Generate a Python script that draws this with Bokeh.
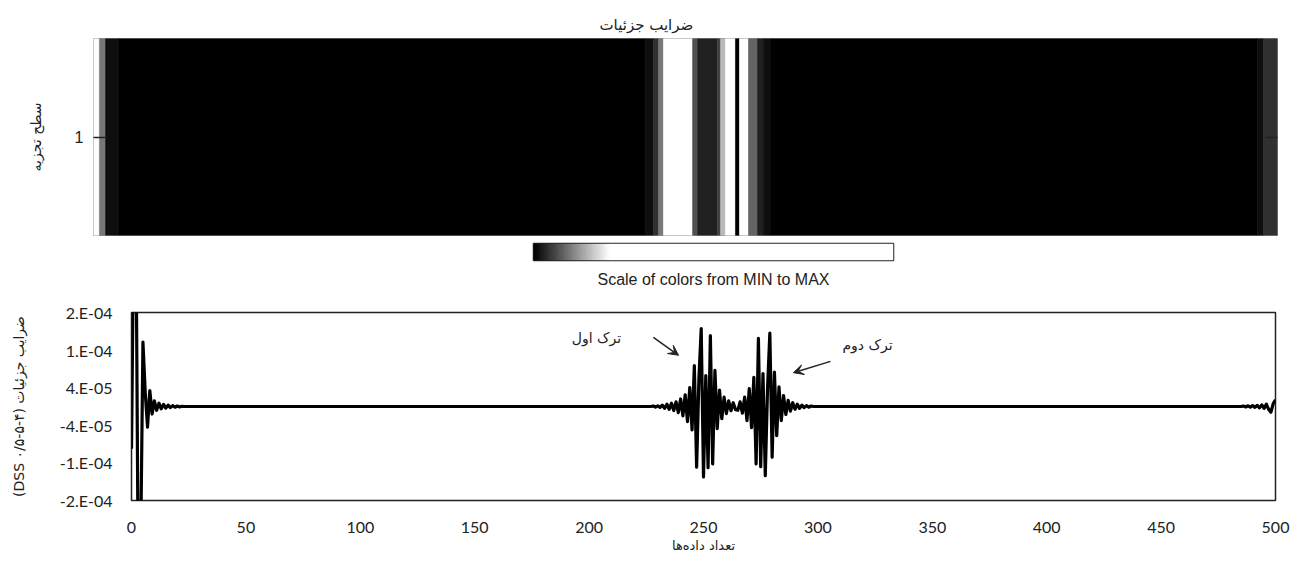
import numpy as np
from bokeh.plotting import figure
from bokeh.models import (Range1d, FixedTicker, LinearAxis, Arrow, VeeHead,
                          LinearColorMapper, ColumnDataSource)
from bokeh.core.properties import value
from bokeh.embed import file_html
from bokeh.resources import INLINE

# ---------------- data ----------------
# heatmap (level 1 decomposition) : column segments along the sample index
heat_start = [0, 2.5, 5.1, 10.6, 233.1, 236.5, 238.6, 240.7, 253.0, 255.1, 263.5,
              264.8, 266.9, 271.1, 272.8, 276.6, 280.4, 282.9, 285.9, 491.6, 494.1]
heat_end = [2.5, 5.1, 10.6, 233.1, 236.5, 238.6, 240.7, 253.0, 255.1, 263.5, 264.8,
            266.9, 271.1, 272.8, 276.6, 280.4, 282.9, 285.9, 491.6, 494.1, 500]
heat_level = [0.9, 0.098, 0.014, 0.0, 0.014, 0.042, 0.098, 1.0, 0.07, 0.028, 0.056,
              0.154, 0.6, 0.0, 0.8, 0.084, 0.028, 0.014, 0.0, 0.014, 0.042]

# detail coefficients (units of 1e-5)
n_samples = 501
sig_head_start = 0
sig_head = [-9, 40, 35, -40, -30, 13.7, 3, -4.4, 3.4, -1.6, 1.2, -0.8, 0.7, -0.5,
            0.45, -0.35, 0.3, -0.25, 0.2, -0.15, 0.1, -0.08, 0.05, 0]
sig_crack_start = 228
sig_crack = [0.1, -0.12, 0.15, -0.2, 0.3, -0.4, 0.5, -0.6, 0.7, -0.85,       # 228-237
             1.0, -1.3, 1.6, -2.0, 2.5, -3.2, 4.0, -5.0, 8.7, -12.9,          # 238-247
             6.0, 16.6, -15.0, 6.6, -13.0, 15.1, -12.2, 7.7, -4.7, 3.5,       # 248-257
             -2.6, 2.0, -1.5, 1.2, -0.9, 0.8, -0.7, -0.8, 1.0, -1.4,          # 258-267
             2.0, -3.0, 3.8, -4.5, 6.2, -12.2, 14.5, -12.8, 7.0, -14.7,       # 268-277
             4.0, 15.6, -10.8, 7.3, -6.2, 4.2, -3.0, 2.3, -1.7, 1.3,          # 278-287
             -1.0, 0.8, -0.6, 0.5, -0.4, 0.3, -0.25, 0.2, -0.15, 0.1, 0]      # 288-298
sig_tail_start = 486
sig_tail = [0.1, -0.1, 0.15, -0.15, 0.2, -0.2, 0.25, -0.3, 0.35, -0.4, 0.5, -0.6,
            -1.2, 0.6, 1.4]

x_ticks = [0, 50, 100, 150, 200, 250, 300, 350, 400, 450, 500]
y_ticks = [-20, -12, -4, 4, 12, 20]
y_tick_labels = ["-2.E-04", "-1.E-04", "-4.E-05", "4.E-05", "1.E-04", "2.E-04"]

crack_labels = ["ترک اول", "ترک دوم"]

# ---------------- build ----------------
signal = np.zeros(n_samples)
for start, vals in ((sig_head_start, sig_head), (sig_crack_start, sig_crack),
                    (sig_tail_start, sig_tail)):
    signal[start:start + len(vals)] = vals
idx = np.arange(n_samples)

sat = 0.21
palette = []
for i in range(256):
    b = min(i / 255 / sat, 1.0)
    g = int(round(b * 255))
    palette.append("#%02x%02x%02x" % (g, g, g))
mapper = LinearColorMapper(palette=palette, low=0, high=1)

FA = "DejaVu Sans"
NUM = "Lato"
W = 1293

# top heatmap
top = figure(width=W, height=237, x_range=Range1d(0, 500), y_range=Range1d(0.5, 1.5),
             output_backend="svg", toolbar_location=None, title="ضرایب جزئیات",
             min_border_left=93, min_border_right=16, min_border_top=38, min_border_bottom=2)
top.title.align = "left"
top.title.offset = 506
top.title.text_font = FA
top.title.text_font_size = "15px"
top.title.text_font_style = "normal"
top.title.text_color = "#222"

hsrc = ColumnDataSource(dict(left=heat_start, right=heat_end, level=heat_level))
top.quad(left="left", right="right", bottom=0.5, top=1.5, source=hsrc,
         fill_color={"field": "level", "transform": mapper},
         line_color={"field": "level", "transform": mapper}, line_width=0.6)
top.xaxis.visible = False
top.grid.visible = False
top.outline_line_color = "#999"
top.outline_line_width = 1
ya = top.yaxis[0]
ya.ticker = FixedTicker(ticks=[1])
ya.major_tick_in = 12
ya.major_tick_out = 0
ya.minor_tick_in = 0
ya.minor_tick_out = 0
ya.major_tick_line_color = "#222"
ya.major_tick_line_width = 1.5
ya.axis_line_color = None
ya.major_label_standoff = 10
ya.major_label_text_font = "Liberation Sans"
ya.major_label_text_font_size = "16px"
ya.major_label_text_color = "#222"
ya.axis_label = "سطح تجزیه"
ya.axis_label_standoff = 28
ya.axis_label_text_font = FA
ya.axis_label_text_font_size = "14px"
ya.axis_label_text_font_style = "normal"
ya.axis_label_text_color = "#222"
ra = LinearAxis(ticker=FixedTicker(ticks=[1]), major_tick_in=12, major_tick_out=0,
                minor_tick_in=0, minor_tick_out=0, axis_line_color=None,
                major_label_overrides={1: ""}, major_label_standoff=0,
                major_tick_line_color="#222", major_tick_line_width=1.5)
top.add_layout(ra, "right")

# colour scale
cb = figure(width=W, height=63, x_range=Range1d(0, 1), y_range=Range1d(0, 1),
            output_backend="svg", toolbar_location=None,
            min_border_left=533, min_border_right=400, min_border_top=6, min_border_bottom=40)
cb.image(image=[np.linspace(0, 1, 256).reshape(1, -1)], x=0, y=0, dw=1, dh=1,
         color_mapper=mapper)
cb.yaxis.visible = False
cb.grid.visible = False
cb.outline_line_color = "#222"
cb.outline_line_width = 1.5
xa = cb.xaxis[0]
xa.ticker = FixedTicker(ticks=[])
xa.major_tick_in = 0
xa.major_tick_out = 0
xa.minor_tick_in = 0
xa.minor_tick_out = 0
xa.axis_line_color = None
xa.major_label_standoff = 0
xa.axis_label = "Scale of colors from MIN to MAX"
xa.axis_label_standoff = 10
xa.axis_label_text_font = "Liberation Sans"
xa.axis_label_text_font_size = "16px"
xa.axis_label_text_font_style = "normal"
xa.axis_label_text_color = "#222"

# bottom signal
bot = figure(width=W, height=260, x_range=Range1d(0, 500), y_range=Range1d(-20, 20),
             output_backend="svg", toolbar_location=None,
             min_border_left=131, min_border_right=18, min_border_top=12, min_border_bottom=60)
bot.line(idx, signal, line_width=3.2, line_color="black", line_join="round")
bot.grid.visible = False
bot.outline_line_color = "#222"
bot.outline_line_width = 1.5
bx = bot.xaxis[0]
bx.ticker = FixedTicker(ticks=x_ticks)
by = bot.yaxis[0]
by.ticker = FixedTicker(ticks=y_ticks)
by.major_label_overrides = {t: l for t, l in zip(y_ticks, y_tick_labels)}
for ax in (bx, by):
    ax.major_tick_in = 0
    ax.major_tick_out = 0
    ax.minor_tick_in = 0
    ax.minor_tick_out = 0
    ax.axis_line_color = None
    ax.major_label_text_font = NUM
    ax.major_label_text_font_size = "16px"
    ax.major_label_text_color = "#222"
    ax.axis_label_text_font = FA
    ax.axis_label_text_font_style = "normal"
    ax.axis_label_text_color = "#222"
bx.major_label_standoff = 21
bx.axis_label = "تعداد داده‌ها"
bx.axis_label_text_font_size = "13px"
bx.axis_label_standoff = 2
by.major_label_standoff = 19
by.axis_label = "\u202bضرایب جزئیات (DSS ۰/۵-۵-۴)\u202c"
by.axis_label_text_font_size = "14px"
by.axis_label_standoff = 30

bot.text(x=[203.2, 321.7], y=[14.5, 13.0], text=crack_labels,
         text_font=value(FA), text_font_size="14px", text_color="#222",
         text_align="center", text_baseline="middle")
bot.add_layout(Arrow(x_start=228.1, y_start=14.7, x_end=239.1, y_end=10.9,
                     line_color="#222", line_width=1.5,
                     end=VeeHead(size=10, fill_color="#222", line_color="#222")))
bot.add_layout(Arrow(x_start=305.5, y_start=9.6, x_end=289.3, y_end=7.2,
                     line_color="#222", line_width=1.5,
                     end=VeeHead(size=10, fill_color="#222", line_color="#222")))

# three independent roots stacked vertically (no border alignment between them)
open("out.html", "w").write(file_html([top, cb, bot], INLINE))
